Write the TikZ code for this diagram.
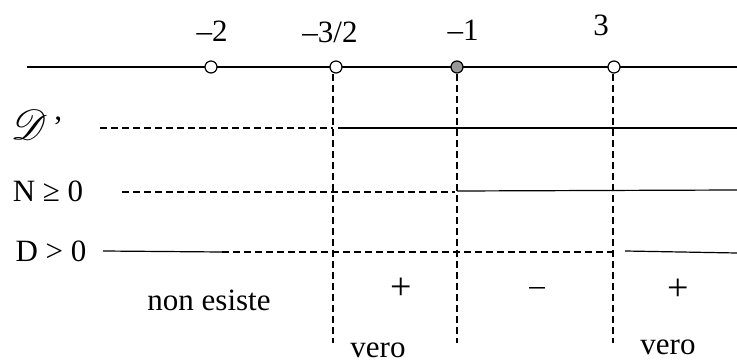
\documentclass[tikz,border=0pt]{standalone}
\usepackage{fontspec}
\usepackage{mathrsfs}
\usepackage{graphicx}
\setmainfont{Liberation Serif}
\begin{document}
\begin{tikzpicture}[x=1pt,y=-1pt,
  ln/.style={line width=1.2pt},
  dsh/.style={line width=1.2pt,dash pattern=on 7pt off 4pt},
  opt/.style={circle,draw,line width=1.2pt,fill=white,minimum size=12pt,inner sep=0pt},
  fpt/.style={circle,draw,line width=1.2pt,fill=gray!80,minimum size=12pt,inner sep=0pt},
  lbl/.style={font=\fontsize{31}{36}\selectfont,inner sep=0pt},
  rlbl/.style={font=\fontsize{31}{36}\selectfont,inner sep=0pt},
  sgn/.style={font=\fontsize{38}{44}\selectfont,inner sep=0pt}]
\useasboundingbox[clip] (0,0) rectangle (737,361);
% axis
\coordinate (aL) at (27,67);
\coordinate (aR) at (737,67);
\draw[ln] (aL) -- (aR);
% vertical dashed lines
\coordinate (v1t) at (333,74); \coordinate (v1b) at (333,343);
\coordinate (v2t) at (457,74); \coordinate (v2b) at (457,343);
\coordinate (v3t) at (613,74); \coordinate (v3b) at (613,343);
\draw[dsh] (v1t) -- (v1b);
\draw[dsh] (v2t) -- (v2b);
\draw[dsh] (v3t) -- (v3b);
% points
\node[opt] (p1) at (211,67) {};
\node[opt] (p2) at (336,67) {};
\node[fpt] (p3) at (457,67) {};
\node[opt] (p4) at (614,67) {};
\node[lbl] (t1) at (212,31) {–2};
\node[lbl] (t2) at (330,32) {–3/2};
\node[lbl] (t3) at (463,30) {–1};
\node[lbl] (t4) at (601,25) {3};
% D' row
\node[rlbl] (r1) at (37,125) {\scalebox{1.7}{$\mathscr{D}$}\,\raisebox{2pt}{\symbol{"27}}};
\coordinate (d1a) at (100,128); \coordinate (d1b) at (333,128);
\coordinate (d1c) at (338,128); \coordinate (d1d) at (737,128);
\draw[dsh] (d1a) -- (d1b);
\draw[ln] (d1c) -- (d1d);
% N row
\node[rlbl] (r2) at (48,191) {N ≥ 0};
\coordinate (n1a) at (122,192); \coordinate (n1b) at (455,192);
\coordinate (n1c) at (457,191); \coordinate (n1d) at (737,190);
\draw[dsh] (n1a) -- (n1b);
\draw[ln] (n1c) -- (n1d);
% D row
\node[rlbl] (r3) at (51,251) {D > 0};
\coordinate (e1a) at (103,251); \coordinate (e1b) at (222,252);
\coordinate (e1c) at (615,252); \coordinate (e1d) at (625,251);
\coordinate (e1e) at (737,253);
\draw[ln] (e1a) -- (e1b);
\draw[dsh] (e1b) -- (e1c);
\draw[ln] (e1d) -- (e1e);
% signs
\node[rlbl] (s0) at (209,300) {non esiste};
\node[sgn] (s1) at (401,289) {+};
\node[rlbl] (s2) at (537,292) {–};
\node[sgn] (s3) at (678,290) {+};
\node[rlbl] (w1) at (378,350) {vero};
\node[rlbl] (w2) at (668,347) {vero};
\end{tikzpicture}
\end{document}
